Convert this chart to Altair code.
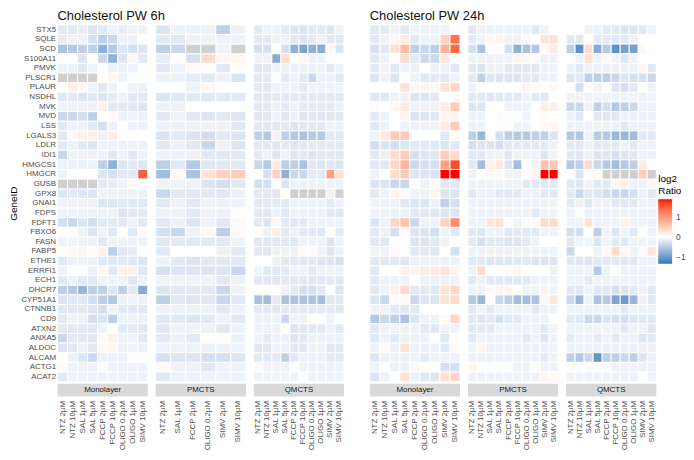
import altair as alt
import pandas as pd

FONT = "Liberation Sans"
N = None

GENES = ["STX5", "SQLE", "SCD", "S100A11", "PMVK", "PLSCR1", "PLAUR", "NSDHL", "MVK", "MVD",
         "LSS", "LGALS3", "LDLR", "IDI1", "HMGCS1", "HMGCR", "GUSB", "GPX8", "GNAI1", "FDPS",
         "FDFT1", "FBXO6", "FASN", "FABP5", "ETHE1", "ERRFI1", "ECH1", "DHCR7", "CYP51A1",
         "CTNNB1", "CD9", "ATXN2", "ANXA5", "ALDOC", "ALCAM", "ACTG1", "ACAT2"]

ALL_COND = ["NTZ 2µM", "NTZ 10µM", "SAL 1µM", "SAL 5µM", "FCCP 2µM", "FCCP 10µM",
            "OLIGO 0.2µM", "OLIGO 1µM", "SIMV 2µM", "SIMV 10µM"]
COND_M6 = ["NTZ 2µM", "NTZ 10µM", "SAL 1µM", "SAL 5µM", "FCCP 2µM", "FCCP 10µM",
           "OLIGO 0.2µM", "OLIGO 1µM", "SIMV 10µM"]
COND_P6 = ["NTZ 2µM", "SAL 1µM", "FCCP 2µM", "OLIGO 0.2µM", "SIMV 2µM", "SIMV 10µM"]
COND_Q6 = ALL_COND
COND_M24 = ["NTZ 2µM", "NTZ 10µM", "SAL 1µM", "SAL 5µM", "FCCP 2µM",
            "OLIGO 0.2µM", "OLIGO 1µM", "SIMV 2µM", "SIMV 10µM"]
COND_P24 = ALL_COND
COND_Q24 = ALL_COND

# log2 ratios, one row per gene (GENES order), None = missing
M6 = [
    [-0.2, -0.21, -0.17, -0.24, -0.21, -0.12, -0.17, -0.12, -0.12],
    [-0.17, -0.12, -0.12, -0.3, -0.45, -0.37, -0.12, -0.12, 0.0],
    [-0.58, -0.52, -0.45, -0.45, -0.76, -0.52, -0.24, -0.3, -0.24],
    [0.0, 0.0, -0.24, 0.0, -0.37, -0.76, -0.24, 0.1, -0.21],
    [-0.12, -0.12, -0.21, -0.12, 0.0, -0.12, -0.12, -0.12, 0.0],
    [N, N, N, N, 0.0, 0.1, -0.12, 0.0, 0.0],
    [0.0, 0.15, 0.05, -0.12, -0.21, -0.12, 0.0, -0.12, -0.12],
    [-0.21, -0.21, -0.24, -0.21, -0.24, -0.21, -0.12, -0.21, -0.21],
    [-0.12, -0.12, -0.12, -0.12, 0.15, -0.21, -0.21, -0.21, -0.24],
    [-0.37, -0.37, -0.3, -0.45, 0.0, 0.05, -0.12, -0.12, -0.12],
    [-0.21, -0.12, -0.12, -0.21, -0.3, -0.12, 0.0, -0.12, -0.12],
    [-0.21, 0.05, 0.15, 0.15, -0.12, 0.15, 0.0, 0.0, 0.0],
    [-0.21, -0.12, -0.21, -0.24, -0.12, -0.12, -0.12, -0.12, -0.12],
    [-0.37, -0.12, -0.12, -0.12, -0.12, -0.21, -0.12, -0.21, -0.12],
    [-0.12, -0.12, -0.12, -0.12, -0.45, -0.76, -0.24, -0.21, -0.24],
    [-0.12, 0.0, 0.0, 0.0, -0.24, -0.3, -0.21, -0.21, 1.45],
    [N, N, N, N, -0.21, -0.17, -0.12, 0.05, 0.0],
    [-0.24, -0.21, -0.24, -0.24, -0.12, -0.12, -0.12, -0.12, -0.12],
    [-0.12, -0.12, -0.12, -0.12, -0.24, -0.24, -0.21, -0.21, -0.21],
    [-0.12, -0.12, -0.12, -0.12, -0.12, -0.12, -0.24, -0.21, -0.21],
    [-0.3, -0.37, -0.24, -0.3, -0.21, -0.21, -0.21, -0.12, -0.21],
    [0.0, 0.0, -0.12, -0.24, -0.12, -0.21, 0.0, -0.21, 0.05],
    [-0.12, -0.12, -0.12, -0.12, -0.21, -0.12, -0.12, -0.12, -0.12],
    [0.02, 0.08, 0.1, 0.03, 0.12, -0.45, -0.21, -0.17, 0.0],
    [-0.21, -0.12, -0.12, -0.12, -0.21, -0.21, -0.21, -0.21, -0.24],
    [-0.12, 0.0, 0.0, -0.12, 0.08, -0.21, 0.15, 0.15, -0.21],
    [-0.21, -0.12, -0.21, -0.21, -0.12, -0.12, -0.12, -0.21, -0.12],
    [-0.45, -0.52, -0.7, -0.45, -0.45, -0.24, -0.45, -0.21, -0.82],
    [-0.24, -0.21, -0.21, -0.3, -0.45, -0.52, -0.12, -0.12, -0.12],
    [-0.21, -0.21, -0.21, -0.24, -0.3, -0.12, -0.21, -0.21, -0.21],
    [-0.21, -0.12, -0.12, -0.3, -0.24, -0.45, -0.12, -0.12, -0.12],
    [-0.21, -0.21, -0.21, -0.21, -0.12, 0.0, -0.21, -0.21, -0.21],
    [-0.37, -0.21, -0.21, -0.21, 0.05, 0.15, -0.12, -0.12, -0.21],
    [-0.24, -0.21, -0.12, -0.21, 0.08, 0.1, -0.12, -0.12, -0.12],
    [0.0, -0.12, -0.24, -0.37, -0.12, -0.12, -0.12, 0.0, 0.0],
    [0.05, -0.12, -0.12, -0.12, 0.03, -0.12, -0.12, -0.12, -0.12],
    [-0.21, -0.12, -0.12, -0.12, -0.12, -0.12, -0.12, -0.12, -0.12],
]

P6 = [
    [-0.24, -0.12, -0.12, -0.12, -0.45, -0.12],
    [-0.21, -0.21, -0.12, -0.12, -0.12, -0.12],
    [-0.45, -0.37, N, N, -0.12, N],
    [-0.17, 0.0, -0.3, 0.35, 0.08, 0.1],
    [-0.21, -0.12, 0.05, 0.0, -0.21, 0.0],
    [-0.12, -0.12, -0.17, -0.21, -0.12, -0.24],
    [0.0, 0.0, -0.12, 0.08, 0.0, 0.0],
    [-0.24, -0.21, -0.21, -0.21, -0.21, -0.21],
    [-0.12, -0.12, 0.0, 0.0, 0.0, 0.0],
    [-0.21, -0.12, -0.21, -0.24, -0.21, -0.24],
    [-0.12, -0.12, -0.12, -0.12, -0.12, -0.21],
    [-0.24, -0.21, -0.24, -0.3, -0.21, -0.24],
    [-0.21, -0.12, -0.21, -0.37, -0.12, -0.24],
    [-0.12, -0.12, -0.12, -0.21, -0.21, -0.21],
    [-0.45, -0.21, -0.52, -0.21, -0.21, -0.21],
    [-0.64, 0.05, -0.58, 0.3, 0.45, 0.5],
    [-0.12, -0.12, -0.12, -0.24, -0.3, -0.21],
    [-0.37, -0.21, -0.21, -0.21, -0.21, -0.12],
    [-0.21, -0.12, -0.21, -0.12, -0.12, -0.12],
    [-0.12, -0.12, -0.21, -0.12, -0.12, 0.0],
    [-0.21, -0.12, -0.24, -0.12, -0.21, 0.05],
    [-0.3, -0.37, -0.12, 0.08, -0.45, 0.05],
    [-0.21, -0.21, -0.21, -0.21, -0.21, -0.12],
    [-0.21, 0.0, 0.0, 0.0, -0.12, -0.21],
    [-0.12, -0.21, -0.24, -0.21, -0.21, -0.21],
    [-0.3, -0.24, -0.24, -0.24, -0.24, -0.37],
    [-0.12, -0.12, -0.12, -0.12, -0.21, -0.12],
    [-0.24, -0.21, -0.21, -0.21, -0.37, -0.12],
    [-0.45, -0.21, -0.24, -0.21, -0.37, -0.21],
    [-0.12, -0.12, -0.12, -0.12, -0.21, -0.12],
    [-0.21, -0.21, -0.24, -0.21, -0.12, -0.21],
    [-0.21, -0.12, -0.12, -0.12, -0.21, -0.12],
    [-0.21, -0.12, -0.21, 0.0, 0.03, -0.12],
    [-0.12, -0.12, -0.12, -0.12, -0.12, -0.12],
    [-0.3, -0.24, -0.24, -0.3, -0.3, -0.24],
    [0.05, -0.12, -0.12, -0.21, -0.12, -0.12],
    [-0.21, -0.12, -0.12, -0.12, -0.12, -0.12],
]

Q6 = [
    [-0.21, -0.12, -0.12, -0.21, -0.24, -0.24, -0.21, -0.21, -0.24, -0.12],
    [-0.21, -0.21, -0.12, -0.12, -0.21, -0.24, -0.21, -0.12, -0.21, -0.21],
    [-0.3, -0.3, 0.0, -0.3, -0.76, -0.88, -0.76, -0.82, 0.08, -0.24],
    [-0.12, -0.12, -0.82, 0.35, 0.0, 0.1, -0.12, -0.12, 0.0, 0.0],
    [-0.21, -0.21, -0.12, -0.12, -0.12, -0.12, -0.12, -0.12, -0.21, -0.12],
    [-0.21, -0.21, 0.0, -0.21, -0.12, -0.21, -0.37, -0.12, -0.12, -0.21],
    [-0.21, -0.21, -0.12, -0.12, -0.12, -0.21, -0.12, -0.12, -0.12, -0.12],
    [-0.21, -0.21, -0.21, -0.21, -0.21, -0.21, -0.21, -0.21, -0.21, -0.21],
    [-0.21, -0.21, -0.12, -0.21, -0.12, -0.21, -0.21, -0.21, -0.21, -0.12],
    [-0.21, -0.21, -0.12, -0.21, -0.12, -0.24, -0.21, -0.21, -0.21, -0.21],
    [-0.21, -0.21, -0.21, -0.21, -0.24, -0.21, -0.21, -0.21, -0.12, -0.12],
    [-0.45, -0.52, -0.12, -0.45, -0.52, -0.58, -0.52, -0.52, -0.21, -0.21],
    [-0.21, -0.21, -0.21, -0.21, -0.24, -0.21, -0.21, -0.21, -0.21, -0.21],
    [-0.21, -0.12, -0.24, -0.12, -0.24, -0.21, -0.24, -0.21, -0.21, -0.21],
    [-0.37, -0.52, 0.2, -0.45, -0.45, -0.58, -0.21, -0.24, -0.21, -0.24],
    [0.0, -0.3, 0.45, -0.76, -0.37, -0.37, -0.21, -0.21, 0.9, 0.3],
    [-0.3, -0.3, 0.0, -0.24, -0.12, -0.12, -0.12, -0.12, -0.12, -0.12],
    [-0.21, -0.21, -0.21, 0.0, N, N, N, N, -0.12, N],
    [-0.21, -0.21, -0.21, -0.21, -0.12, -0.12, -0.12, -0.12, -0.21, -0.12],
    [-0.21, -0.21, -0.12, -0.21, -0.12, -0.12, -0.12, -0.12, -0.21, -0.21],
    [-0.21, -0.24, 0.1, -0.21, -0.21, -0.21, -0.12, -0.12, -0.12, -0.12],
    [0.03, -0.12, 0.15, -0.21, -0.12, -0.21, -0.21, -0.21, 0.02, -0.21],
    [-0.21, -0.21, -0.21, -0.21, -0.21, -0.12, -0.12, -0.12, -0.24, -0.12],
    [-0.21, -0.21, -0.12, -0.12, -0.12, 0.03, 0.03, -0.12, -0.24, -0.12],
    [0.0, 0.0, -0.12, -0.21, -0.21, -0.21, -0.21, -0.24, -0.24, -0.3],
    [-0.12, -0.21, -0.21, -0.21, -0.12, -0.12, -0.21, -0.12, -0.12, -0.12],
    [-0.21, -0.21, -0.21, -0.21, -0.21, -0.21, -0.21, -0.21, -0.21, -0.21],
    [0.0, 0.0, 0.0, -0.12, -0.21, -0.3, -0.3, -0.21, 0.0, -0.24],
    [-0.58, -0.64, -0.21, -0.58, -0.58, -0.58, -0.58, -0.64, -0.21, -0.21],
    [-0.21, -0.21, -0.21, -0.21, -0.21, -0.21, -0.21, -0.21, -0.21, -0.21],
    [-0.12, -0.12, -0.12, -0.37, -0.12, -0.12, 0.0, 0.0, -0.12, 0.0],
    [-0.12, -0.12, -0.12, 0.0, -0.24, -0.21, -0.21, -0.21, -0.12, -0.21],
    [-0.12, -0.21, -0.12, -0.12, -0.24, -0.21, -0.12, -0.12, -0.12, -0.12],
    [-0.21, -0.21, -0.12, -0.12, -0.21, -0.21, -0.12, -0.12, -0.21, -0.21],
    [-0.21, -0.21, -0.21, -0.45, -0.21, -0.12, -0.12, -0.12, -0.21, -0.21],
    [0.08, -0.12, -0.12, -0.12, 0.0, -0.12, -0.12, -0.12, -0.12, -0.12],
    [-0.12, -0.12, -0.12, -0.12, -0.12, 0.0, -0.12, -0.12, -0.12, -0.12],
]

M24 = [
    [-0.21, -0.21, -0.12, -0.21, -0.12, -0.12, -0.12, -0.12, 0.02],
    [-0.21, -0.12, 0.1, 0.2, -0.21, -0.12, -0.12, 0.45, 1.3],
    [-0.3, -0.21, 0.3, 0.65, -0.45, -0.37, -0.45, 0.75, 1.4],
    [-0.21, -0.12, 0.0, 0.35, -0.21, -0.37, -0.37, 0.25, 0.0],
    [-0.21, -0.12, -0.21, -0.12, -0.12, 0.0, -0.12, -0.12, -0.21],
    [-0.24, -0.12, -0.24, 0.0, -0.12, -0.21, -0.21, -0.21, -0.12],
    [0.0, 0.0, 0.0, 0.3, 0.1, 0.1, 0.08, 0.3, 0.4],
    [-0.21, -0.21, -0.12, -0.12, -0.24, -0.24, -0.21, 0.0, 0.05],
    [0.05, 0.0, 0.1, 0.2, -0.12, -0.12, -0.12, 0.2, 0.5],
    [-0.21, -0.12, 0.0, 0.1, -0.24, -0.24, -0.21, 0.1, 0.1],
    [-0.21, -0.12, 0.0, -0.12, -0.12, -0.12, -0.12, 0.2, 0.5],
    [-0.12, 0.2, 0.5, 0.5, 0.0, 0.0, 0.0, -0.21, 0.05],
    [-0.3, -0.24, -0.3, -0.24, -0.21, -0.21, -0.21, -0.24, -0.21],
    [-0.21, -0.12, 0.35, 0.5, -0.3, -0.24, -0.24, 0.5, 0.35],
    [-0.21, -0.21, 0.4, 0.7, -0.37, -0.3, -0.3, 0.9, 1.6],
    [-0.12, 0.0, 0.35, 0.5, -0.24, -0.24, -0.24, 1.9, 1.9],
    [-0.24, -0.24, -0.37, -0.37, 0.0, -0.12, 0.03, -0.21, -0.21],
    [-0.21, -0.12, 0.1, 0.05, -0.12, -0.12, 0.1, -0.24, -0.24],
    [-0.12, -0.12, -0.12, -0.21, -0.24, -0.24, -0.12, -0.45, -0.3],
    [-0.12, -0.12, -0.12, -0.12, -0.21, -0.21, -0.21, -0.24, -0.24],
    [-0.24, -0.12, 0.4, 0.6, -0.37, -0.12, -0.12, 0.45, 1.1],
    [-0.21, -0.12, -0.3, 0.05, -0.24, -0.24, -0.3, -0.12, -0.21],
    [-0.21, -0.21, 0.0, 0.0, -0.24, -0.24, -0.21, -0.12, 0.0],
    [-0.12, -0.12, 0.05, 0.0, -0.21, -0.21, -0.21, 0.0, -0.3],
    [-0.21, -0.21, -0.21, -0.21, -0.12, -0.12, -0.12, -0.12, -0.12],
    [-0.21, 0.0, 0.0, 0.15, 0.1, 0.2, 0.2, 0.25, 0.1],
    [-0.21, -0.12, -0.12, -0.12, 0.0, -0.12, -0.12, -0.12, -0.12],
    [-0.21, -0.12, 0.15, 0.35, -0.21, -0.21, -0.21, 0.3, 0.4],
    [-0.24, -0.37, 0.05, 0.05, -0.37, -0.24, -0.24, 0.3, 0.35],
    [-0.12, -0.12, -0.21, -0.21, -0.21, 0.0, 0.0, 0.0, 0.0],
    [-0.52, -0.37, -0.45, -0.58, -0.24, -0.12, -0.12, 0.05, 0.4],
    [-0.21, -0.12, -0.12, -0.12, -0.12, -0.21, -0.21, -0.12, -0.12],
    [-0.21, -0.12, -0.21, -0.12, -0.12, -0.12, 0.0, -0.21, 0.03],
    [-0.12, 0.05, -0.12, 0.3, -0.12, -0.12, -0.12, -0.21, 0.05],
    [-0.24, -0.12, -0.12, -0.12, -0.12, -0.21, -0.12, -0.12, -0.12],
    [-0.12, 0.0, -0.12, -0.12, 0.1, 0.0, 0.0, -0.3, -0.3],
    [-0.24, -0.12, 0.0, 0.3, -0.12, -0.21, -0.24, 0.3, 0.4],
]

P24 = [
    [-0.21, -0.12, -0.12, -0.12, -0.12, -0.12, -0.12, -0.21, -0.12, 0.0],
    [-0.21, -0.12, 0.1, 0.12, -0.12, -0.12, -0.06, 0.0, 0.3, 0.3],
    [-0.3, -0.58, 0.0, 0.0, -0.3, -0.76, -0.58, -0.52, 0.05, 0.2],
    [-0.12, -0.12, -0.12, -0.12, -0.12, 0.1, 0.1, 0.05, -0.12, -0.12],
    [-0.21, -0.24, -0.12, -0.12, -0.21, -0.21, -0.21, -0.21, -0.12, -0.12],
    [-0.21, -0.45, -0.24, -0.24, -0.24, -0.24, -0.21, -0.21, -0.12, -0.12],
    [-0.12, 0.05, 0.0, 0.0, 0.0, 0.0, 0.1, 0.05, 0.0, 0.05],
    [-0.21, -0.21, -0.21, -0.21, -0.21, -0.21, -0.12, -0.21, -0.21, 0.0],
    [-0.24, -0.24, 0.0, 0.0, -0.12, -0.12, -0.12, 0.0, 0.15, 0.15],
    [-0.12, -0.12, 0.0, 0.05, 0.0, 0.0, -0.12, 0.0, 0.05, 0.0],
    [-0.12, -0.12, 0.0, 0.0, 0.0, -0.12, -0.12, 0.0, 0.05, 0.1],
    [-0.45, -0.7, 0.05, -0.3, -0.45, -0.52, -0.52, -0.45, -0.45, -0.24],
    [-0.3, -0.24, -0.24, -0.3, -0.21, -0.21, -0.21, -0.21, -0.21, -0.12],
    [-0.21, -0.21, -0.12, -0.12, -0.21, -0.12, -0.12, -0.12, -0.24, -0.12],
    [-0.21, -0.64, 0.15, 0.2, -0.24, -0.64, 0.0, -0.12, 0.6, 0.55],
    [-0.12, 0.0, 0.05, 0.05, -0.12, -0.12, 0.0, 0.1, 1.9, 1.9],
    [-0.12, -0.12, -0.12, -0.12, -0.12, -0.12, -0.21, -0.21, -0.21, -0.21],
    [-0.21, -0.12, -0.12, -0.21, -0.21, -0.21, -0.12, -0.12, -0.21, -0.21],
    [-0.12, -0.12, -0.12, -0.12, -0.12, -0.12, -0.12, -0.12, -0.12, -0.12],
    [-0.12, -0.12, -0.12, -0.12, -0.12, -0.12, -0.12, -0.21, -0.12, -0.12],
    [-0.12, -0.12, 0.25, 0.3, 0.0, -0.12, 0.05, 0.05, 0.35, 0.35],
    [-0.21, -0.24, -0.12, -0.12, -0.21, -0.21, -0.21, -0.21, -0.12, -0.12],
    [-0.21, -0.3, -0.21, -0.21, -0.24, -0.24, -0.21, -0.12, 0.0, 0.0],
    [-0.12, -0.12, -0.12, -0.12, -0.12, -0.12, -0.12, -0.12, -0.12, -0.12],
    [-0.21, -0.21, -0.24, -0.24, -0.21, -0.21, -0.21, -0.24, -0.24, -0.24],
    [-0.12, 0.35, 0.0, 0.0, 0.05, 0.1, 0.0, 0.0, 0.0, -0.12],
    [-0.21, -0.12, -0.21, -0.21, -0.21, -0.21, -0.21, -0.12, -0.12, -0.12],
    [-0.12, -0.12, 0.05, 0.1, 0.1, 0.0, -0.12, -0.12, 0.15, -0.12],
    [-0.52, -0.7, 0.0, -0.37, -0.45, -0.64, -0.64, -0.58, 0.1, 0.25],
    [-0.21, -0.12, -0.21, -0.12, -0.12, -0.12, -0.12, -0.21, -0.12, -0.12],
    [-0.21, -0.24, -0.21, -0.3, -0.21, -0.21, -0.12, -0.12, -0.12, 0.0],
    [-0.21, -0.21, -0.21, -0.12, -0.12, -0.12, -0.12, -0.12, -0.21, -0.12],
    [-0.21, -0.12, -0.12, -0.12, -0.12, -0.12, -0.21, -0.12, -0.24, -0.12],
    [-0.12, 0.1, -0.12, -0.12, -0.12, -0.12, -0.12, -0.12, -0.12, -0.12],
    [-0.12, -0.12, -0.12, -0.12, -0.12, -0.12, -0.12, -0.12, -0.21, -0.12],
    [0.1, 0.0, 0.0, 0.0, 0.0, -0.12, -0.12, 0.05, -0.12, -0.12],
    [-0.12, -0.12, -0.12, -0.12, -0.12, -0.12, -0.12, -0.12, 0.1, 0.05],
]

Q24 = [
    [0.0, 0.0, -0.12, -0.12, -0.21, -0.21, -0.24, -0.24, -0.21, -0.12],
    [-0.21, -0.21, 0.03, -0.21, -0.21, -0.21, -0.21, -0.12, 0.0, 0.0],
    [-0.45, -1.08, 0.35, -0.82, -0.52, -1.08, -0.93, -0.93, 0.1, 0.0],
    [0.0, -0.12, 0.3, -0.12, 0.05, -0.12, -0.24, -0.12, 0.0, 0.0],
    [-0.12, -0.21, -0.12, -0.12, -0.12, -0.12, -0.12, -0.12, 0.1, -0.21],
    [-0.24, -0.21, -0.45, -0.45, -0.45, -0.37, -0.24, -0.3, -0.3, -0.37],
    [0.0, -0.3, 0.0, -0.12, 0.0, -0.24, -0.3, -0.21, 0.0, -0.12],
    [-0.12, -0.12, -0.12, -0.12, -0.12, -0.12, -0.12, -0.12, -0.12, -0.12],
    [-0.37, -0.37, -0.12, -0.45, -0.3, -0.52, -0.45, -0.37, -0.12, -0.12],
    [-0.12, -0.21, 0.0, -0.21, -0.21, -0.21, -0.12, -0.12, -0.12, -0.12],
    [-0.12, -0.12, -0.12, -0.12, -0.12, -0.12, -0.21, -0.12, -0.12, -0.12],
    [-0.52, -0.52, -0.12, -0.52, -0.52, -0.7, -0.7, -0.64, -0.21, -0.21],
    [-0.21, -0.21, -0.12, -0.21, -0.21, -0.21, -0.12, -0.21, -0.12, -0.12],
    [-0.21, -0.21, -0.12, -0.24, -0.24, -0.3, -0.24, -0.21, -0.12, -0.12],
    [-0.52, -0.45, 0.35, -0.37, -0.52, -0.64, -0.52, -0.45, 0.2, 0.0],
    [0.0, -0.24, 0.0, 0.05, N, N, N, N, 0.5, N],
    [-0.21, -0.21, -0.12, -0.21, -0.21, 0.1, 0.15, -0.12, -0.12, 0.1],
    [-0.21, -0.37, -0.21, -0.24, -0.3, -0.37, -0.37, -0.3, -0.12, -0.21],
    [-0.21, -0.12, -0.21, -0.12, -0.12, -0.21, -0.21, -0.21, -0.12, -0.12],
    [-0.12, 0.0, -0.12, -0.12, -0.12, -0.12, -0.12, -0.12, -0.12, -0.12],
    [-0.12, -0.12, 0.3, -0.12, -0.12, -0.12, 0.15, -0.12, -0.12, -0.12],
    [-0.3, -0.3, 0.0, -0.45, -0.12, -0.24, -0.12, -0.21, 0.0, -0.12],
    [-0.21, -0.12, -0.12, -0.24, -0.12, -0.21, -0.21, -0.12, -0.12, -0.12],
    [-0.37, 0.0, 0.0, -0.12, 0.05, 0.35, 0.1, -0.12, 0.05, 0.25],
    [-0.21, -0.21, -0.24, -0.21, -0.21, -0.21, -0.21, -0.21, -0.12, -0.12],
    [-0.12, -0.12, -0.12, -0.52, -0.12, 0.0, -0.12, -0.12, -0.12, -0.12],
    [-0.12, -0.12, -0.21, -0.12, -0.12, -0.12, -0.12, -0.12, -0.12, -0.12],
    [-0.21, -0.21, -0.12, -0.21, -0.21, -0.3, -0.24, -0.21, -0.12, -0.21],
    [-0.37, -0.7, -0.12, -0.58, -0.52, -0.88, -0.98, -0.7, -0.12, -0.21],
    [-0.12, -0.12, -0.12, -0.12, -0.12, -0.12, -0.21, -0.12, -0.12, -0.12],
    [-0.21, -0.21, -0.37, -0.37, -0.24, -0.3, -0.3, -0.24, -0.21, -0.21],
    [-0.12, -0.12, -0.12, -0.12, -0.12, -0.12, -0.21, -0.12, -0.12, -0.21],
    [-0.21, -0.12, -0.12, -0.21, -0.12, -0.21, -0.12, -0.12, -0.24, -0.21],
    [-0.12, -0.12, -0.12, -0.12, -0.12, -0.12, -0.12, -0.12, -0.12, -0.12],
    [-0.45, -0.52, -0.37, -1.03, -0.45, -0.45, -0.37, -0.45, -0.24, -0.12],
    [0.05, 0.0, 0.02, 0.02, 0.02, -0.12, -0.12, -0.12, -0.12, -0.12],
    [-0.12, -0.12, -0.12, -0.12, -0.12, -0.12, -0.12, -0.12, 0.0, -0.12],
]

PANELS = [
    ("6h", "Monolayer", COND_M6, M6),
    ("6h", "PMCTS", COND_P6, P6),
    ("6h", "QMCTS", COND_Q6, Q6),
    ("24h", "Monolayer", COND_M24, M24),
    ("24h", "PMCTS", COND_P24, P24),
    ("24h", "QMCTS", COND_Q24, Q24),
]

rows = []
for t, cell, conds, mat in PANELS:
    for g, vals in zip(GENES, mat):
        for c, v in zip(conds, vals):
            rows.append({"time": t, "cell": cell, "cond": c, "gene": g, "value": v})
df = pd.DataFrame(rows)

W, H = 91, 360
CSCALE = alt.Scale(domain=[-1.32, 0, 1.85], range=["#2b7bb9", "#ffffff", "#ff0000"],
                   interpolate="lab")
LEGEND = alt.Legend(title=["log2", "Ratio"], values=[-1, 0, 1], gradientLength=65,
                    gradientThickness=14, titleFontSize=10, titleFontWeight="normal",
                    titleFont=FONT, titleColor="#000000", labelFont=FONT, labelFontSize=8.5,
                    labelColor="#4d4d4d", orient="none", direction="vertical",
                    legendX=606, legendY=151, gradientStrokeWidth=0, labelOffset=4,
                    titlePadding=3)


def panel(t, cell, conds, first):
    d = df[(df.time == t) & (df.cell == cell)]
    xenc = alt.X("cond:N", sort=conds, title=None,
                 scale=alt.Scale(paddingInner=0, paddingOuter=0),
                 axis=alt.Axis(labelAngle=270, domain=False, ticks=False, labelPadding=19,
                               labelFontSize=8, labelColor="#4d4d4d", labelFont=FONT))
    if first:
        yaxis = alt.Axis(domain=False, ticks=False, labelFontSize=8, labelColor="#4d4d4d",
                         labelFont=FONT, labelPadding=2, titleFontSize=10,
                         titleFontWeight="normal", titleFont=FONT, titleColor="#000000",
                         titlePadding=2)
        yenc = alt.Y("gene:N", sort=GENES, title="GeneID",
                     scale=alt.Scale(paddingInner=0, paddingOuter=0), axis=yaxis)
    else:
        yenc = alt.Y("gene:N", sort=GENES, title=None,
                     scale=alt.Scale(paddingInner=0, paddingOuter=0), axis=None)
    base = alt.Chart(d)
    heat = base.mark_rect(stroke="white", strokeWidth=1).encode(
        x=xenc, y=yenc,
        color=alt.Color("value:Q", scale=CSCALE, legend=LEGEND),
    ).transform_filter("isValid(datum.value)")
    na = base.mark_rect(stroke="white", strokeWidth=1, color="#d0d0d0").encode(
        x=xenc, y=yenc,
    ).transform_filter("!isValid(datum.value)")
    sd = pd.DataFrame({"cell": [cell]})
    strip = alt.Chart(sd).mark_rect(color="#d9d9d9").encode(
        x=alt.value(0), x2=alt.value(W), y=alt.value(H + 2), y2=alt.value(H + 15))
    stxt = alt.Chart(sd).mark_text(fontSize=8, color="#1a1a1a", font=FONT,
                                   baseline="middle").encode(
        x=alt.value(W / 2), y=alt.value(H + 8.5), text="cell:N")
    return alt.layer(heat, na, strip, stxt).properties(width=W, height=H)


def title(txt):
    return alt.Title(txt, anchor="start", frame="group", fontSize=13, fontWeight="normal",
                     font=FONT, color="#111111", offset=1)


g6 = alt.hconcat(panel("6h", "Monolayer", COND_M6, True),
                 panel("6h", "PMCTS", COND_P6, False),
                 panel("6h", "QMCTS", COND_Q6, False),
                 spacing=6, title=title("Cholesterol PW 6h")).resolve_scale(x="independent")
g24 = alt.hconcat(panel("24h", "Monolayer", COND_M24, False),
                  panel("24h", "PMCTS", COND_P24, False),
                  panel("24h", "QMCTS", COND_Q24, False),
                  spacing=6, title=title("Cholesterol PW 24h")).resolve_scale(x="independent")

chart = alt.hconcat(g6, g24, spacing=24).resolve_scale(
    color="shared", x="independent").properties(
    padding={"left": 0, "top": 0, "right": 0, "bottom": 0}
).configure_view(stroke=None)

chart.save("out.html", embed_options={"renderer": "svg", "actions": False})
